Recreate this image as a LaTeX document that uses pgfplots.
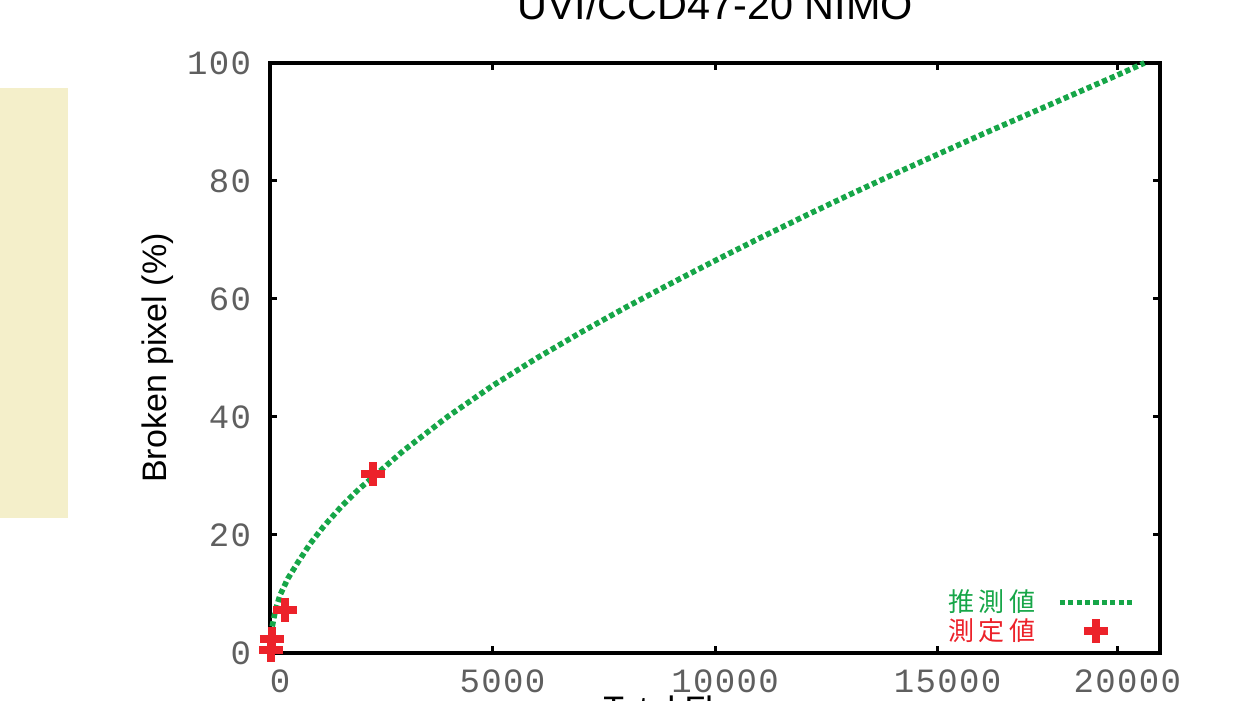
\documentclass[border=0pt]{standalone}
\usepackage{fontspec}
\setmainfont{Liberation Sans}
\newfontfamily\tickfont[LetterSpace=4]{Liberation Mono}
\newfontfamily\cjk{Noto Sans CJK JP}
\usepackage{pgfplots}
\pgfplotsset{compat=1.18}

\definecolor{estgreen}{RGB}{22,166,72}
\definecolor{measred}{RGB}{236,34,42}
\definecolor{panel}{RGB}{244,239,202}
\definecolor{ticktxt}{RGB}{95,95,95}

\pgfplotsset{
  lineleg/.style={legend image code/.code={\draw[##1] (0pt,0pt) -- (36pt,0pt);}},
  markleg/.style={legend image code/.code={\draw[##1] plot coordinates {(18pt,0pt)};}},
}

\begin{document}
\begin{tikzpicture}
\path[use as bounding box] (0,0) rectangle (629pt,350.5pt);
\clip (0,0) rectangle (629pt,350.5pt);
% pale panel on the left
\fill[panel] (0pt,91.5pt) rectangle (34pt,306.5pt);

\begin{axis}[
  at={(135pt,24pt)}, anchor=south west,
  width=445pt, height=295pt, scale only axis,
  xmin=0, xmax=20000, ymin=0, ymax=100,
  axis line style={line width=2pt},
  tick style={line width=1.5pt, black},
  major tick length=3.5pt,
  tick align=inside,
  xtick={0,5000,10000,15000,19040},
  xticklabels={0,5000,10000,15000,20000},
  ytick={0,20,40,60,80,100},
  tick label style={font=\tickfont\fontsize{17}{17}\selectfont, text=ticktxt},
  xticklabel style={yshift=-5pt, xshift=5pt},
  yticklabel style={xshift=-6pt},
  /pgf/number format/assume math mode=true,
  scaled x ticks=false,
  title={UVI/CCD47-20 NIMO},
  title style={font=\fontsize{20.7}{20.7}\selectfont, anchor=base,
    at={(axis description cs:0.5,1)}, yshift=15.5pt},
  ylabel={Broken pixel (\%)},
  ylabel style={font=\fontsize{17}{17}\selectfont,
    at={(axis description cs:-0.126,0.5)}, anchor=center},
  xlabel={Total Fluence},
  xlabel style={font=\fontsize{17}{17}\selectfont,
    at={(axis description cs:0.374,0)}, anchor=north west, inner sep=0pt, yshift=-21pt},
  clip=false,
  legend plot pos=right,
  legend cell align=right,
  legend style={draw=none, fill=none, at={(axis description cs:0.9787,0.005)},
    anchor=south east, row sep=0pt, nodes={inner sep=1pt}},
]
% estimated curve
\addplot[estgreen, line width=2.8pt, dash pattern=on 2.6pt off 1.6pt, lineleg]
coordinates {
  (50,4.5) (120,7.2) (225,9.8) (400,12.6) (630,15.4) (900,18.5)
  (1200,21.4) (1600,24.8) (2000,27.8) (2315,29.8) (3000,34.3)
  (4000,40.1) (5000,45.3) (6000,50.0) (7000,54.4) (8000,58.6)
  (9000,62.6) (10000,66.5) (11000,70.3) (12000,74.0) (13000,77.6)
  (14000,81.1) (15000,84.5) (16000,87.9) (17000,91.2) (18000,94.5)
  (19000,97.8) (19650,100)
};
\addlegendentry{\cjk\fontsize{13}{13}\selectfont\textcolor{estgreen}{推\,測\,値}\rule{10pt}{0pt}}
% measured points
\addplot[only marks, mark=+, mark size=6pt, line width=4pt, color=measred, markleg]
coordinates {
  (20,0.5) (40,2.3) (340,7.3) (2310,30.3)
};
\addlegendentry{\cjk\fontsize{13}{13}\selectfont\textcolor{measred}{測\,定\,値}\rule{10pt}{0pt}}
\end{axis}
\end{tikzpicture}
\end{document}
